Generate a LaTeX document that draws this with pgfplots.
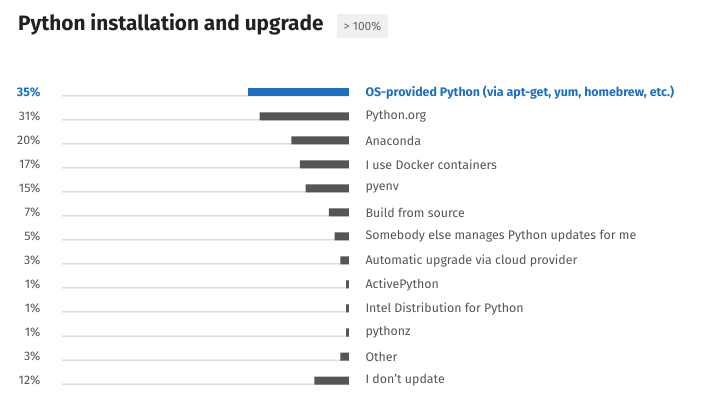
\documentclass[border=0pt]{standalone}
\usepackage{pgfplots}
\pgfplotsset{compat=1.18}
\usepackage{fontspec}
\setmainfont{Fira Sans}
\definecolor{hl}{HTML}{1F6FBF}
\definecolor{bargray}{HTML}{545559}
\definecolor{txt}{HTML}{555555}
\definecolor{linegray}{HTML}{CCCCCC}
\begin{document}
\begin{tikzpicture}
\path[use as bounding box] (0,0) rectangle (725pt,398pt);
\node[anchor=base west, font=\fontsize{20.8}{24}\selectfont\bfseries, text=black!87, inner sep=0] at (18pt,367pt) {Python installation and upgrade};
\node[fill=black!6, rounded corners=2pt, minimum width=51pt, minimum height=24pt, inner sep=0, text=black!60, font=\fontsize{12}{14}\selectfont] at (362.5pt,372pt) {> 100\%};
\pgfplotsset{rowaxis/.style={
  at={(62pt,317.5pt)}, anchor=north west,
  scale only axis, width=287pt, height=312pt,
  xmin=0, xmax=99.5, x dir=reverse,
  ymin=-0.5, ymax=12.5, y dir=reverse,
  axis line style={draw=none}, xtick=\empty,
  ytick={0,...,12}, major tick length=0pt,
  yticklabel style={font=\fontsize{12.4}{14}\selectfont, text=txt},
  clip=false,
}}
\begin{axis}[rowaxis,
  xbar, bar shift=0pt,
  yticklabel pos=right,
  yticklabel style={anchor=west, xshift=13pt},
  yticklabels={{\color{hl}\bfseries OS-provided Python (via apt-get, yum, homebrew, etc.)},Python.org,Anaconda,I use Docker containers,pyenv,Build from source,Somebody else manages Python updates for me,Automatic upgrade via cloud provider,ActivePython,Intel Distribution for Python,pythonz,Other,I don’t update},
]
\addplot[draw=none, fill=linegray, bar width=1pt, bar shift=-3.5pt] coordinates {(99.5,0) (99.5,1) (99.5,2) (99.5,3) (99.5,4) (99.5,5) (99.5,6) (99.5,7) (99.5,8) (99.5,9) (99.5,10) (99.5,11) (99.5,12)};
\addplot[draw=none, fill=hl, bar width=8pt] coordinates {(35,0)};
\addplot[draw=none, fill=bargray, bar width=8pt] coordinates {(31,1) (20,2) (17,3) (15,4) (7,5) (5,6) (3,7) (1,8) (1,9) (1,10) (3,11) (12,12)};
\end{axis}
\begin{axis}[rowaxis,
  yticklabel pos=left,
  yticklabel style={anchor=east, xshift=-18pt},
  yticklabels={{\color{hl}\bfseries 35\%},31\%,20\%,17\%,15\%,7\%,5\%,3\%,1\%,1\%,1\%,3\%,12\%},
]
\addplot[draw=none] coordinates {(0,0) (0,12)};
\end{axis}
\end{tikzpicture}
\end{document}
